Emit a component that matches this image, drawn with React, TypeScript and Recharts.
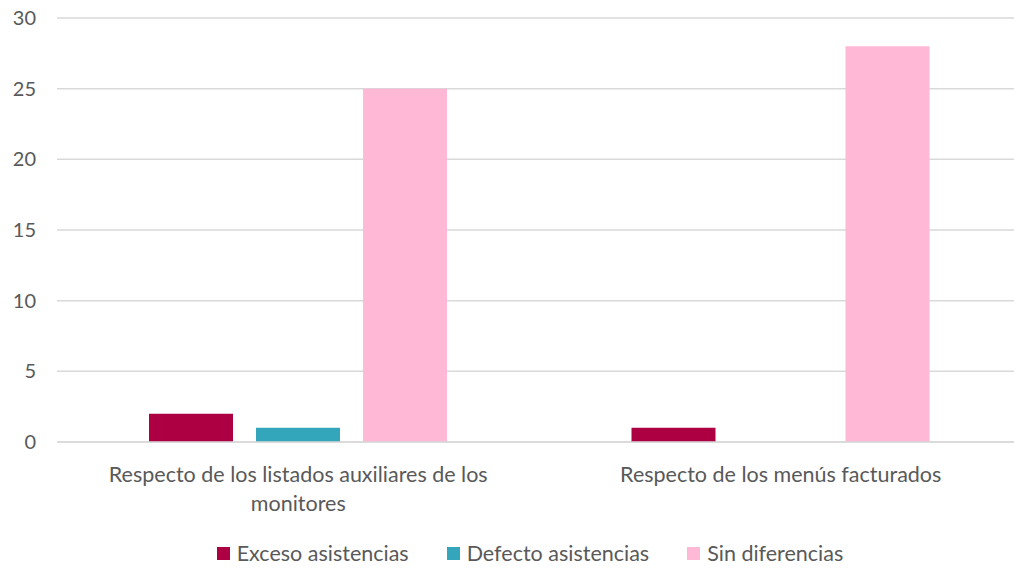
import React from 'react';
import { BarChart, Bar, XAxis, YAxis, CartesianGrid, Legend } from 'recharts';

const categories = ['Respecto de los listados auxiliares de los monitores', 'Respecto de los menús facturados'];
const excesoValues = [2, 1];
const defectoValues = [1, 0];
const sinValues = [25, 28];
const yTicks = [0, 5, 10, 15, 20, 25, 30];

const seriesNames = ['Exceso asistencias', 'Defecto asistencias', 'Sin diferencias'];
const COLORS = ['#AD0042', '#33A6BC', '#FFB8D5'];

const data = categories.map((name, i) => ({
  name,
  exceso: excesoValues[i],
  defecto: defectoValues[i],
  sin: sinValues[i],
}));

const FONT = "Lato, 'Open Sans', sans-serif";
const TEXT = '#595959';

function wrap(label: string, maxChars: number) {
  const words = label.split(' ');
  const lines: string[] = [];
  let cur = '';
  words.forEach((w) => {
    const next = cur ? cur + ' ' + w : w;
    if (next.length > maxChars && cur) {
      lines.push(cur);
      cur = w;
    } else {
      cur = next;
    }
  });
  if (cur) lines.push(cur);
  return lines;
}

const CategoryTick = (props: any) => {
  const { x, y, payload } = props;
  const lines = wrap(payload.value, 42);
  return (
    <text x={x} y={y} textAnchor="middle" fill={TEXT} fontSize={21.5} fontFamily={FONT}>
      {lines.map((l, i) => (
        <tspan key={i} x={x} dy={i === 0 ? 32 : 29}>
          {l}
        </tspan>
      ))}
    </text>
  );
};

const renderLegend = () => (
  <div
    style={{
      display: 'flex',
      justifyContent: 'center',
      alignItems: 'center',
      height: 38,
      paddingTop: 4,
      paddingLeft: 38,
      boxSizing: 'border-box',
      fontFamily: FONT,
      fontSize: 21.5,
      color: TEXT,
    }}
  >
    {seriesNames.map((n, i) => (
      <div key={n} style={{ display: 'flex', alignItems: 'center', marginRight: i < 2 ? 38 : 0 }}>
        <span style={{ width: 13, height: 13, background: COLORS[i], marginRight: 7, display: 'inline-block' }} />
        <span>{n}</span>
      </div>
    ))}
  </div>
);

export default function App() {
  return (
    <div style={{ position: 'absolute', left: 0, top: 0, background: '#fff', width: 1014, height: 570, overflow: 'hidden' }}>
      <BarChart
        width={1014}
        height={570}
        data={data}
        margin={{ top: 18, right: -8, left: 0, bottom: 0 }}
        barGap={23}
        barSize={84}
      >
        <CartesianGrid vertical={false} stroke="#D9D9D9" strokeWidth={1.5} />
        <XAxis
          dataKey="name"
          height={90}
          axisLine={{ stroke: '#D9D9D9', strokeWidth: 1.5 }}
          tickLine={false}
          interval={0}
          tick={<CategoryTick />}
        />
        <YAxis
          width={57}
          domain={[0, 30]}
          ticks={yTicks}
          axisLine={false}
          tickLine={false}
          tickSize={0}
          tickMargin={21}
          tick={{ fill: TEXT, fontSize: 20, fontFamily: FONT }}
        />
        <Legend verticalAlign="bottom" height={38} content={renderLegend} />
        <Bar dataKey="exceso" name={seriesNames[0]} fill={COLORS[0]} isAnimationActive={false} />
        <Bar dataKey="defecto" name={seriesNames[1]} fill={COLORS[1]} isAnimationActive={false} />
        <Bar dataKey="sin" name={seriesNames[2]} fill={COLORS[2]} isAnimationActive={false} />
      </BarChart>
    </div>
  );
}
